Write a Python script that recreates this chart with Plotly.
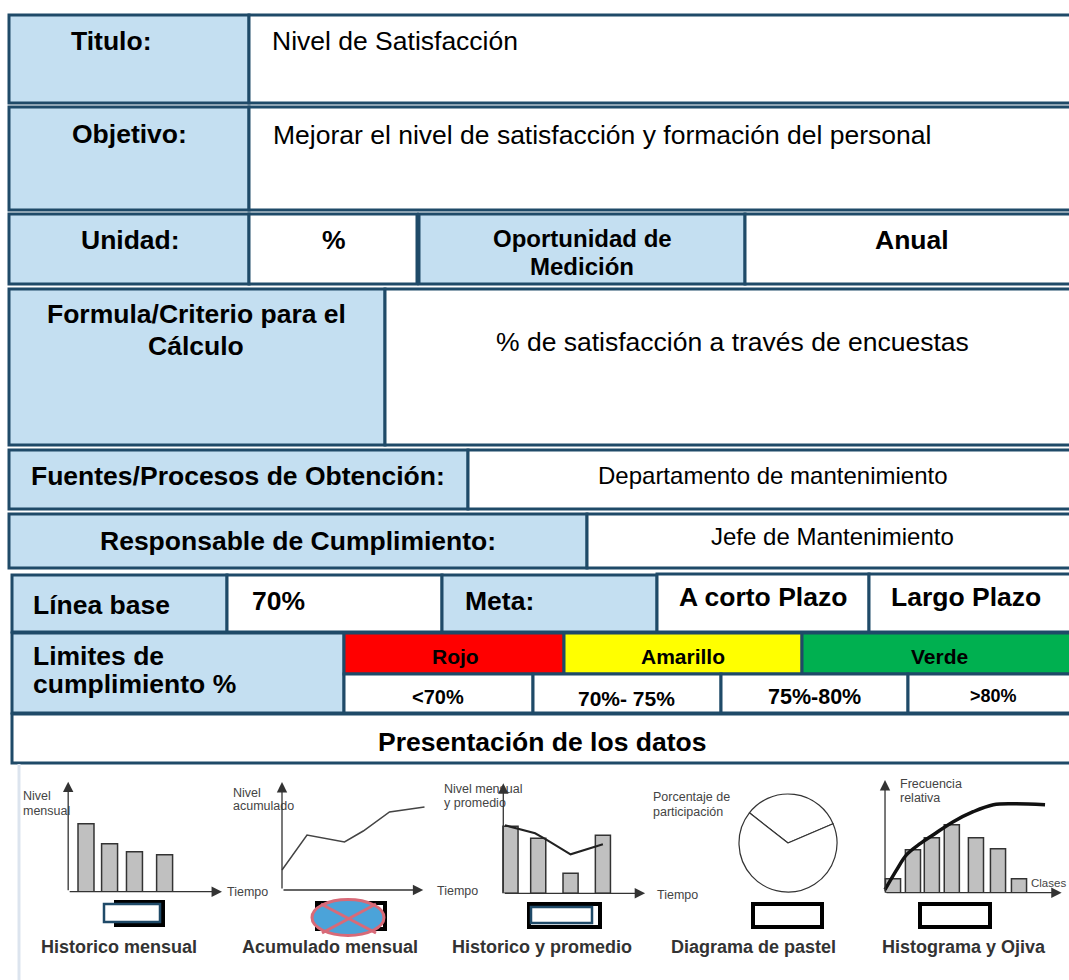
import plotly.graph_objects as go

W, H = 1069, 980

# ---------------- data ----------------
# Historico mensual (bars)
hm_x = [1, 1.9, 2.85, 4]
hm_y = [68, 48, 40, 37]
# Acumulado mensual (line)
ac_x = [0, 1, 2.5, 3.25, 4.3, 5.7]
ac_y = [20, 55, 48, 59, 78, 83]
# Historico y promedio (bars + average line)
hp_x = [1, 1.9, 2.95, 4]
hp_y = [67, 55, 20, 58]
pr_x = [0.82, 1.8, 2.15, 2.95, 4.0]
pr_y = [68, 60, 54, 39, 49]
# Diagrama de pastel
pie_vals = [33, 67]
# Histograma y Ojiva
hg_x = [1, 1.95, 2.85, 3.8, 4.95, 6, 7]
hg_y = [14, 43, 55, 68, 55, 44, 14]
og_x = [0.62, 1.18, 1.65, 2.29, 2.92, 3.87, 4.82, 5.78, 6.73, 8.24]
og_y = [3, 23, 38, 49, 58, 71, 81, 88, 89, 88]

chart_titles = ["Historico mensual", "Acumulado mensual", "Historico y promedio",
                "Diagrama de pastel", "Histograma y Ojiva"]
limit_colors = ["Rojo", "Amarillo", "Verde"]
limit_ranges = ["&lt;70%", "70%- 75%", "75%-80%", "&gt;80%"]

# ---------------- styles ----------------
FONT = "Liberation Sans, Arial, sans-serif"
BORDER = "#1F4A68"
BLUE = "#C4DFF1"
WHITE = "#FFFFFF"
RED = "#FF0000"
YELLOW = "#FFFF00"
GREEN = "#00B050"
AXC = "#333333"

fig = go.Figure()

# main pixel-like canvas axes
fig.add_trace(go.Scatter(x=[None], y=[None], xaxis="x", yaxis="y",
                         showlegend=False, hoverinfo="skip"))

layout = dict(
    width=W, height=H, margin=dict(l=0, r=0, t=0, b=0),
    paper_bgcolor="white", plot_bgcolor="rgba(0,0,0,0)", showlegend=False,
    xaxis=dict(range=[0, W], domain=[0, 1], visible=False, fixedrange=True),
    yaxis=dict(range=[H, 0], domain=[0, 1], visible=False, fixedrange=True),
)

def add_axes(k, a, b, xr, base, ymax):
    """subplot k: data x -> pixel a + b*x ; data y -> pixel base - y"""
    layout[f"xaxis{k}"] = dict(domain=[(a + b * xr[0]) / W, (a + b * xr[1]) / W],
                               range=list(xr), visible=False, fixedrange=True,
                               anchor=f"y{k}")
    layout[f"yaxis{k}"] = dict(domain=[1 - base / H, 1 - (base - ymax) / H],
                               range=[0, ymax], visible=False, fixedrange=True,
                               anchor=f"x{k}")

add_axes(2, 59.8, 26.2, (0.2, 6.4), 891.7, 116)
add_axes(3, 282.0, 25.0, (-0.1, 5.9), 890.0, 114)
add_axes(4, 479.7, 30.8, (0.7, 5.5), 893.3, 116)
add_axes(5, 872.0, 21.0, (0.5, 9.2), 892.7, 116)

bar_marker = dict(color="#C0C0C0", line=dict(color="#333333", width=1.5))
fig.add_trace(go.Bar(x=hm_x, y=hm_y, width=0.61, marker=bar_marker,
                     xaxis="x2", yaxis="y2", hoverinfo="skip"))
fig.add_trace(go.Scatter(x=ac_x, y=ac_y, mode="lines",
                         line=dict(color="#444444", width=1.5),
                         xaxis="x3", yaxis="y3", hoverinfo="skip"))
fig.add_trace(go.Bar(x=hp_x, y=hp_y, width=0.49, marker=bar_marker,
                     xaxis="x4", yaxis="y4", hoverinfo="skip"))
fig.add_trace(go.Scatter(x=pr_x, y=pr_y, mode="lines",
                         line=dict(color="#222222", width=2),
                         xaxis="x4", yaxis="y4", hoverinfo="skip"))
fig.add_trace(go.Bar(x=hg_x, y=hg_y, width=0.72, marker=bar_marker,
                     xaxis="x5", yaxis="y5", hoverinfo="skip"))
fig.add_trace(go.Scatter(x=og_x, y=og_y, mode="lines",
                         line=dict(color="#111111", width=3.5, shape="spline"),
                         xaxis="x5", yaxis="y5", hoverinfo="skip"))
fig.add_trace(go.Pie(values=pie_vals, sort=False, direction="clockwise", rotation=-52,
                     domain=dict(x=[739 / W, 837 / W], y=[1 - 892 / H, 1 - 794 / H]),
                     marker=dict(colors=["white", "white"], line=dict(color="#333333", width=1.2)),
                     textinfo="none", hoverinfo="skip", showlegend=False))

# ---------------- table cells ----------------
cells = [
    (9, 15, 249, 103, BLUE), (249, 15, 1076, 103, WHITE),
    (9, 107, 249, 210, BLUE), (249, 107, 1076, 210, WHITE),
    (9, 214, 249, 284, BLUE), (249, 214, 417, 284, WHITE),
    (419, 214, 745, 284, BLUE), (745, 214, 1076, 284, WHITE),
    (9, 289, 385, 445, BLUE), (385, 289, 1076, 445, WHITE),
    (9, 450, 468, 509, BLUE), (468, 450, 1076, 509, WHITE),
    (9, 514, 587, 568, BLUE), (587, 514, 1076, 568, WHITE),
    (12, 575, 227, 632, BLUE), (227, 575, 442, 632, WHITE),
    (442, 575, 657, 632, BLUE), (657, 574, 869, 632, WHITE), (869, 574, 1076, 632, WHITE),
    (12, 633, 344, 713, BLUE), (344, 633, 564, 674, RED),
    (564, 633, 802, 674, YELLOW), (802, 633, 1076, 674, GREEN),
    (344, 674, 533, 713, WHITE), (533, 674, 721, 713, WHITE),
    (721, 674, 908, 713, WHITE), (908, 674, 1076, 713, WHITE),
    (12, 714, 1076, 763, WHITE),
]
shapes = []
for x0, y0, x1, y1, c in cells:
    shapes.append(dict(type="rect", xref="x", yref="y", x0=x0, y0=y0, x1=x1, y1=y1,
                       fillcolor=c, line=dict(color=BORDER, width=3)))

# faint left rule in the picture area
shapes.append(dict(type="line", xref="x", yref="y", x0=19, y0=764, x1=19, y1=980,
                   line=dict(color="#DCE4EE", width=3)))

# check boxes under the mini charts
def rect(x0, y0, x1, y1, col, w, fill="white"):
    shapes.append(dict(type="rect", xref="x", yref="y", x0=x0, y0=y0, x1=x1, y1=y1,
                       fillcolor=fill, line=dict(color=col, width=w)))

rect(116, 902, 163, 925, "black", 4)
rect(104, 904, 160, 922, BORDER, 2.5)
rect(317, 903, 385, 929, "black", 4)
shapes.append(dict(type="circle", xref="x", yref="y", x0=312, y0=899.5, x1=384, y1=935.5,
                   fillcolor="#4BA3D9", line=dict(color="#D86A78", width=3)))
shapes.append(dict(type="line", xref="x", yref="y", x0=321, y0=904, x1=376, y1=933,
                   line=dict(color="#D86A78", width=3)))
shapes.append(dict(type="line", xref="x", yref="y", x0=322, y0=933, x1=376, y1=904,
                   line=dict(color="#D86A78", width=3)))
rect(529, 904, 600, 927, "black", 4)
rect(531, 907, 592, 923, BORDER, 2.5)
rect(753, 904, 822, 927, "black", 4)
rect(920, 904, 990, 927, "black", 4)

# ---------------- texts ----------------
ann = []
def txt(t, x, y, size, bold=True, anchor="center", color="black"):
    if bold:
        t = f"<b>{t}</b>"
    if anchor == "left":
        x -= 2
    ann.append(dict(text=t, x=x, y=y, xref="x", yref="y", showarrow=False,
                    xanchor=anchor, yanchor="middle",
                    font=dict(family=FONT, size=size, color=color)))

BIG = 26.5
txt("Titulo:", 111, 41, BIG)
txt("Nivel de Satisfacción", 272, 41, BIG, bold=False, anchor="left")
txt("Objetivo:", 129, 134, BIG)
txt("Mejorar el nivel de satisfacción y formación del personal", 273, 135, BIG,
    bold=False, anchor="left")
txt("Unidad:", 130, 240, BIG)
txt("%", 334, 240, BIG)
txt("Oportunidad de", 582, 238.5, 24)
txt("Medición", 582, 266, 24)
txt("Anual", 912, 240, BIG)
txt("Formula/Criterio para el", 196, 314, BIG)
txt("Cálculo", 196, 346, BIG)
txt("% de satisfacción a través de encuestas", 732, 341.5, BIG, bold=False)
txt("Fuentes/Procesos de Obtención:", 238, 476, BIG)
txt("Departamento de mantenimiento", 773, 475, 24, bold=False)
txt("Responsable de Cumplimiento:", 298, 541, BIG)
txt("Jefe de Mantenimiento", 832, 536, 24, bold=False)
txt("Línea base", 33, 605, BIG, anchor="left")
txt("70%", 252, 601, BIG, anchor="left")
txt("Meta:", 465, 601, BIG, anchor="left")
txt("A corto Plazo", 763, 597, BIG)
txt("Largo Plazo", 966, 597, BIG)
txt("Limites de", 33, 655.5, BIG, anchor="left")
txt("cumplimiento %", 33, 684, BIG, anchor="left")
for t, x in zip(limit_colors, [455, 683, 939]):
    txt(t, x, 656, 21)
for t, x, y, s in zip(limit_ranges, [438, 626.5, 814, 993], [696.5, 698.5, 697, 695.5],
                      [20, 21, 21.5, 18]):
    txt(t, x, y, s)
txt("Presentación de los datos", 542, 742, BIG)

# small chart labels
SM = 12.5
SC = "#444444"
for t, x, y in [("Nivel", 23, 796), ("mensual", 23, 811),
                ("Nivel", 233, 793), ("acumulado", 233, 806),
                ("Nivel mensual", 444, 789), ("y promedio", 444, 803),
                ("Porcentaje de", 653, 797), ("participación", 653, 812),
                ("Frecuencia", 900, 784), ("relativa", 900, 798),
                ("Tiempo", 227, 892), ("Tiempo", 437, 891), ("Tiempo", 657, 895)]:
    txt(t, x, y, SM, bold=False, anchor="left", color=SC)
txt("Clases", 1031, 883, 11.5, bold=False, anchor="left", color=SC)

for t, x in zip(chart_titles, [118.5, 330, 542, 753, 964]):
    txt(t, x, 947, 18, color="#333333")

# axes arrows of the mini charts
def arrow(k, x0, y0, x1, y1):
    ann.append(dict(xref=f"x{k}", yref=f"y{k}", axref=f"x{k}", ayref=f"y{k}",
                    x=x1, y=y1, ax=x0, ay=y0, text="", showarrow=True,
                    arrowhead=2, arrowsize=1.6, arrowwidth=1.3, arrowcolor=AXC,
                    standoff=0, startstandoff=0))

for k, ox, xe, yt in [(2, 0.32, 6.19, 110), (3, 0.0, 5.65, 108),
                      (4, 0.766, 5.37, 110), (5, 0.62, 9.03, 112.7)]:
    arrow(k, ox, 0, xe, 0)
    arrow(k, ox, 0, ox, yt)

layout["shapes"] = shapes
layout["annotations"] = ann
fig.update_layout(**layout)

fig.write_html("out.html",
               config={"displayModeBar": False, "staticPlot": True},
               post_script="document.body.style.margin='0';document.body.style.padding='0';"
                           "document.documentElement.style.overflow='hidden';")
